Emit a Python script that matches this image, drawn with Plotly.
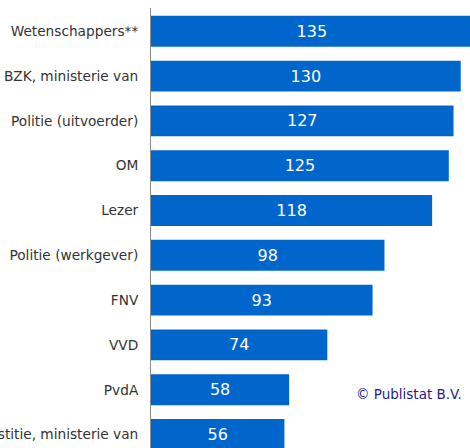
import plotly.graph_objects as go

categories = ["Wetenschappers**", "BZK, ministerie van", "Politie (uitvoerder)", "OM", "Lezer",
              "Politie (werkgever)", "FNV", "VVD", "PvdA", "Justitie, ministerie van"]
values = [135, 130, 127, 125, 118, 98, 93, 74, 58, 56]
copyright_text = "© Publistat B.V."

fig = go.Figure(go.Bar(
    x=values, y=categories, orientation="h",
    marker=dict(color="#0066CC", line=dict(width=0)),
    text=[str(v) for v in values],
    textposition="inside", insidetextanchor="middle", textangle=0,
    textfont=dict(family="DejaVu Sans", size=16, color="white"),
    constraintext="none",
    cliponaxis=True,
    hoverinfo="none",
))

fig.update_layout(
    width=470, height=448,
    margin=dict(l=151, r=0, t=8, b=0, autoexpand=False),
    paper_bgcolor="white", plot_bgcolor="white",
    bargap=0.31,
    showlegend=False,
    xaxis=dict(range=[0, 133.9], visible=False, showgrid=False, zeroline=False),
    yaxis=dict(
        categoryorder="array", categoryarray=categories,
        range=[9.301, -0.520],
        automargin=False,
        showline=True, linecolor="#8A8A8A", linewidth=1,
        showgrid=False, zeroline=False,
        ticks="", ticklabelstandoff=9,
        tickfont=dict(family="DejaVu Sans", size=13.7, color="#333333"),
    ),
    annotations=[dict(
        text=copyright_text, xref="paper", yref="paper",
        x=0.809, y=0.1227, xanchor="center", yanchor="middle",
        showarrow=False,
        font=dict(family="DejaVu Sans", size=13.5, color="#1C1C8C"),
    )],
)

fig.write_html("out.html",
               config={"displayModeBar": False},
               post_script="document.body.style.margin='0';document.body.style.overflow='hidden';")
